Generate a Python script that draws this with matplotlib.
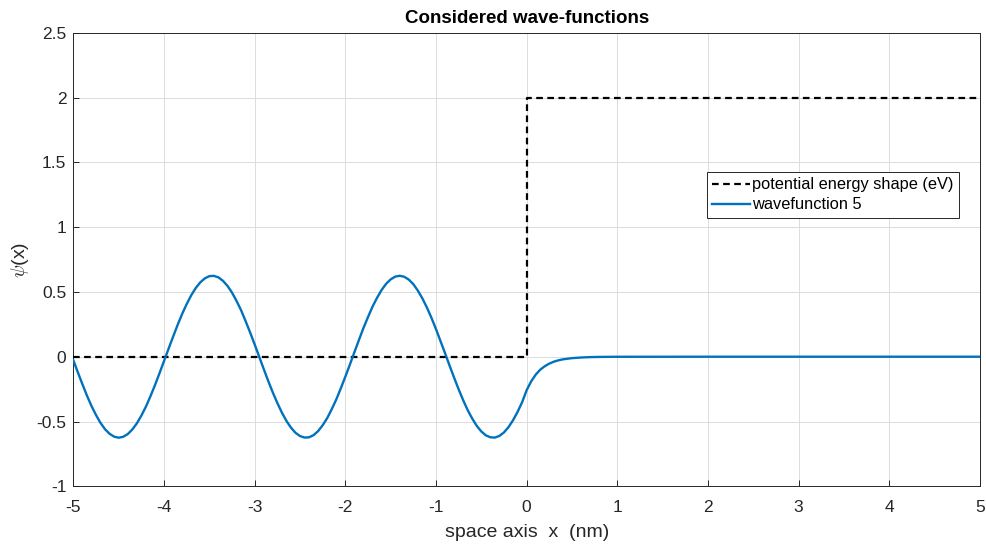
import matplotlib
matplotlib.use("Agg")
import matplotlib.pyplot as plt

plt.rcParams['font.family'] = ['Liberation Sans', 'DejaVu Sans']
plt.rcParams['mathtext.fontset'] = 'cm'

# Potential energy step (eV)
pot_x = [-5, 0, 0, 5]
pot_v = [0, 0, 2, 2]

# Wavefunction samples (position in nm, amplitude)
psi_x = [-5.0, -4.95, -4.9, -4.85, -4.8, -4.75, -4.7, -4.65, -4.6, -4.55,
         -4.5, -4.45, -4.4, -4.35, -4.3, -4.25, -4.2, -4.15, -4.1, -4.05,
         -4.0, -3.95, -3.9, -3.85, -3.8, -3.75, -3.7, -3.65, -3.6, -3.55,
         -3.5, -3.45, -3.4, -3.35, -3.3, -3.25, -3.2, -3.15, -3.1, -3.05,
         -3.0, -2.95, -2.9, -2.85, -2.8, -2.75, -2.7, -2.65, -2.6, -2.55,
         -2.5, -2.45, -2.4, -2.35, -2.3, -2.25, -2.2, -2.15, -2.1, -2.05,
         -2.0, -1.95, -1.9, -1.85, -1.8, -1.75, -1.7, -1.65, -1.6, -1.55,
         -1.5, -1.45, -1.4, -1.35, -1.3, -1.25, -1.2, -1.15, -1.1, -1.05,
         -1.0, -0.95, -0.9, -0.85, -0.8, -0.75, -0.7, -0.65, -0.6, -0.55,
         -0.5, -0.45, -0.4, -0.35, -0.3, -0.25, -0.2, -0.15, -0.1, -0.05,
         0.0, 0.05, 0.1, 0.15, 0.2, 0.25, 0.3, 0.35, 0.4, 0.5,
         0.6, 0.7, 0.8, 1.0, 2.0, 3.0, 4.0, 5.0]
psi_y = [-0.027, -0.121, -0.212, -0.300, -0.380, -0.450, -0.511, -0.560, -0.595, -0.617,
         -0.625, -0.618, -0.597, -0.562, -0.515, -0.455, -0.386, -0.306, -0.220, -0.128,
         -0.034, 0.061, 0.154, 0.245, 0.330, 0.406, 0.474, 0.530, 0.574, 0.6045,
         0.622, 0.624, 0.6125, 0.586, 0.547, 0.495, 0.431, 0.359, 0.275, 0.187,
         0.095, 0.000, -0.095, -0.188, -0.276, -0.357, -0.431, -0.495, -0.547, -0.587,
         -0.6125, -0.624, -0.622, -0.605, -0.574, -0.529, -0.474, -0.405, -0.330, -0.244,
         -0.154, -0.061, 0.035, 0.129, 0.222, 0.306, 0.387, 0.455, 0.515, 0.563,
         0.597, 0.618, 0.625, 0.617, 0.595, 0.560, 0.510, 0.450, 0.379, 0.300,
         0.213, 0.120, 0.027, -0.069, -0.162, -0.252, -0.336, -0.413, -0.478, -0.534,
         -0.577, -0.607, -0.622, -0.624, -0.611, -0.584, -0.543, -0.490, -0.4255, -0.351,
         -0.258, -0.190, -0.138, -0.100, -0.073, -0.053, -0.038, -0.028, -0.020, -0.011,
         -0.006, -0.003, -0.0016, -0.0004, 0.0, 0.0, 0.0, 0.0]

xticks = [-5, -4, -3, -2, -1, 0, 1, 2, 3, 4, 5]
yticks = [-1, -0.5, 0, 0.5, 1, 1.5, 2, 2.5]
ytick_labels = ['-1', '-0.5', '0', '0.5', '1', '1.5', '2', '2.5']

fig = plt.figure(figsize=(9.87, 5.47), dpi=100)
ax = fig.add_axes([0.0743, 0.111, 0.9186, 0.829])

ax.plot(pot_x, pot_v, color='black', lw=1.6, dashes=(3, 2),
        label='potential energy shape (eV)', zorder=3)
ax.plot(psi_x, psi_y, color='#0072BD', lw=1.7, label='wavefunction 5', zorder=4)

ax.set_xlim(-5, 5)
ax.set_ylim(-1, 2.5)
ax.set_xticks(xticks)
ax.set_xticklabels([str(t) for t in xticks])
ax.set_yticks(yticks)
ax.set_yticklabels(ytick_labels)

ax.grid(True, color='#dcdcdc', lw=0.7)
ax.set_axisbelow(True)
for s in ax.spines.values():
    s.set_color('#262626')
    s.set_linewidth(0.7)
ax.tick_params(axis='both', direction='in', length=4, width=0.7,
               colors='#262626', labelsize=12.5, top=False, right=False)
ax.tick_params(axis='x', pad=10)
ax.tick_params(axis='y', pad=5)

ax.set_title('Considered wave-functions', fontsize=13.5, fontweight='bold', pad=7)
ax.set_xlabel('space axis  x  (nm)', fontsize=14, color='#262626', labelpad=6)
ax.set_ylabel(r'$\psi$(x)', fontsize=14, color='#262626', labelpad=4)

leg = ax.legend(loc='upper left', bbox_to_anchor=(0.716, 0.686),
                bbox_transform=fig.transFigure, fontsize=11.8, frameon=True,
                fancybox=False, framealpha=1, edgecolor='#262626',
                borderpad=0.35, handlelength=2.3, handletextpad=0.1,
                labelspacing=0.3, borderaxespad=0)
leg.get_frame().set_linewidth(0.7)

fig.savefig('out.png', dpi=100)
